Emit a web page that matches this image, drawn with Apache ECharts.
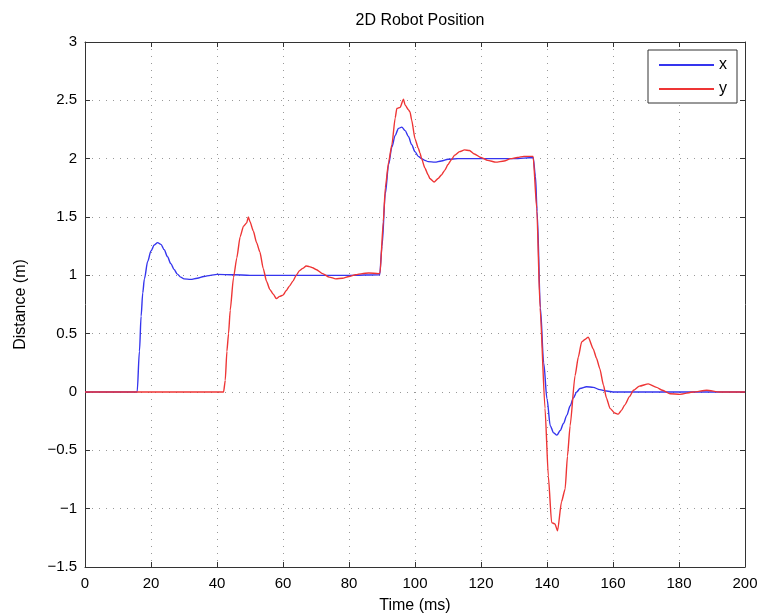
<!DOCTYPE html>
<html>
<head>
<meta charset="utf-8">
<script src="https://cdn.jsdelivr.net/npm/echarts@6/dist/echarts.min.js"></script>
<style>html,body{margin:0;padding:0;background:#fff}#c{width:764px;height:615px}</style>
</head>
<body>
<div id="c"></div>
<script>
// x position (blue)
var xT = [0,15.8,16.5,17,17.5,18,19,20,21,22,23,24,25,26,27,28,29,30,32,34,36,38,40,45,50,60,70,80,89.3,
  90,91,92,93,94,95,96,97,98,99,100,101,102,103,104,106,108,110,113,120,130,135.8,
  136.5,137,138,139,140,141,142,143,144,145,146,147,148,149,150,152,154,156,158,160,170,180,200];
var xV = [0,0,0.35,0.65,0.85,0.97,1.12,1.21,1.26,1.28,1.265,1.22,1.16,1.10,1.05,1.01,0.985,0.97,0.965,0.975,0.99,1.0,1.008,1.005,1.0,1.0,1.0,1.0,1.005,
  1.25,1.7,1.95,2.1,2.2,2.26,2.27,2.24,2.19,2.12,2.06,2.02,2.0,1.985,1.975,1.97,1.98,1.995,2.0,2.0,2.0,2.01,
  1.85,1.55,0.72,0.25,-0.06,-0.29,-0.35,-0.37,-0.33,-0.27,-0.2,-0.12,-0.05,0.0,0.03,0.045,0.04,0.02,0.008,0,0,0,0];
// y position (red)
var yT = [0,42,42.5,43,43.5,44,45,46,47,48,49,49.5,50,51,52,53,54,55,56,57,58,59,60,61,62,63,64,65,66,67,68,69,70,72,74,76,78,80,82,84,86,88.9,89.4,
  90.4,91,92,93,94,94.5,95.5,96.5,97,98,98.5,99,100,101,101.5,102,103,104,104.5,105.8,107,108,109,110,111,112,113.5,115,116.5,118,120,122,124.5,127,129,131,133,135.8,
  136.9,137.9,139.4,140.4,141.4,142.4,143.2,144.4,145.5,146.2,147,148.5,149.5,150.5,151.5,152.5,154,155,156,157.1,158,159.1,160.5,161.6,162.5,163.6,165,166.2,168,170.7,173.2,175,177.3,180.3,184.3,188.4,192.4,200];
var yV = [0,0,0.1,0.35,0.5,0.7,0.98,1.15,1.33,1.42,1.45,1.5,1.46,1.38,1.28,1.2,1.06,0.95,0.88,0.84,0.80,0.82,0.83,0.87,0.91,0.95,1.0,1.04,1.06,1.08,1.075,1.065,1.05,1.015,0.985,0.97,0.975,0.99,1.005,1.015,1.02,1.015,1.02,
  1.46,1.75,1.97,2.12,2.35,2.43,2.44,2.51,2.46,2.42,2.40,2.33,2.17,2.09,2.05,2.0,1.92,1.86,1.83,1.80,1.83,1.86,1.9,1.95,1.99,2.03,2.06,2.075,2.07,2.04,2.01,1.985,1.97,1.98,2.0,2.01,2.02,2.02,
  1.57,0.72,-0.14,-0.72,-1.12,-1.13,-1.19,-0.94,-0.83,-0.55,-0.29,0.14,0.3,0.43,0.45,0.47,0.37,0.29,0.2,0.06,-0.05,-0.14,-0.18,-0.19,-0.16,-0.11,-0.04,0.015,0.05,0.07,0.04,0.015,-0.015,-0.02,0,0.015,0,0];

var seriesNames = ['x', 'y'];
var chartTitle = '2D Robot Position';
var xName = 'Time (ms)';
var yName = 'Distance (m)';

function pairs(t, v) { return t.map(function (ti, i) { return [ti, v[i]]; }); }
function fmt(v) { return String(v).replace('-', '\u2212'); }

var FONT = 'Liberation Sans';
var chart = echarts.init(document.getElementById('c'));
var gridLine = { show: true, lineStyle: { color: '#999', type: [1, 6], width: 1 } };
var axisLineStyle = { show: true, onZero: false, lineStyle: { color: '#333', width: 1 } };
var tick = { inside: true, length: 5, lineStyle: { color: '#333' } };
chart.setOption({
  animation: false,
  backgroundColor: '#fff',
  title: {
    text: chartTitle, left: 415, top: 8, textAlign: 'center',
    textStyle: { fontFamily: FONT, fontSize: 16, fontWeight: 'normal', color: '#000' }
  },
  legend: {
    data: seriesNames, orient: 'vertical', right: 27, top: 50,
    padding: [7, 10, 6, 11], itemGap: 8, itemWidth: 55, itemHeight: 2,
    icon: 'rect', backgroundColor: '#fff', borderColor: '#333', borderWidth: 1,
    textStyle: { fontFamily: FONT, fontSize: 16, color: '#000', lineHeight: 16 }
  },
  grid: { left: 85, right: 19, top: 42, bottom: 48, containLabel: false, outerBoundsMode: 'none' },
  xAxis: [{
    type: 'value', min: 0, max: 200, interval: 20, position: 'bottom',
    name: xName, nameLocation: 'middle', nameGap: 31,
    nameTextStyle: { fontFamily: FONT, fontSize: 16, color: '#000' },
    axisLine: axisLineStyle, axisTick: tick,
    axisLabel: { fontFamily: FONT, fontSize: 15, color: '#000', margin: 9, formatter: fmt },
    splitLine: gridLine
  }, {
    type: 'value', min: 0, max: 200, interval: 20, position: 'top',
    axisLine: axisLineStyle, axisTick: tick,
    axisLabel: { show: false }, splitLine: { show: false }
  }],
  yAxis: [{
    type: 'value', min: -1.5, max: 3, interval: 0.5, position: 'left',
    name: yName, nameLocation: 'middle', nameGap: 56, nameRotate: 90,
    nameTextStyle: { fontFamily: FONT, fontSize: 16, color: '#000' },
    axisLine: axisLineStyle, axisTick: tick,
    axisLabel: { fontFamily: FONT, fontSize: 15, color: '#000', margin: 8, formatter: fmt },
    splitLine: gridLine
  }, {
    type: 'value', min: -1.5, max: 3, interval: 0.5, position: 'right',
    axisLine: axisLineStyle, axisTick: tick,
    axisLabel: { show: false }, splitLine: { show: false }
  }],
  series: [{
    name: seriesNames[0], type: 'line', data: pairs(xT, xV), showSymbol: false,
    smooth: 0.3, smoothMonotone: 'x',
    lineStyle: { color: '#3535ee', width: 1.4 }, itemStyle: { color: '#3535ee' }
  }, {
    name: seriesNames[1], type: 'line', data: pairs(yT, yV), showSymbol: false,
    smooth: 0.2, smoothMonotone: 'x',
    lineStyle: { color: '#ee3535', width: 1.4 }, itemStyle: { color: '#ee3535' }
  }]
});
</script>
</body>
</html>
